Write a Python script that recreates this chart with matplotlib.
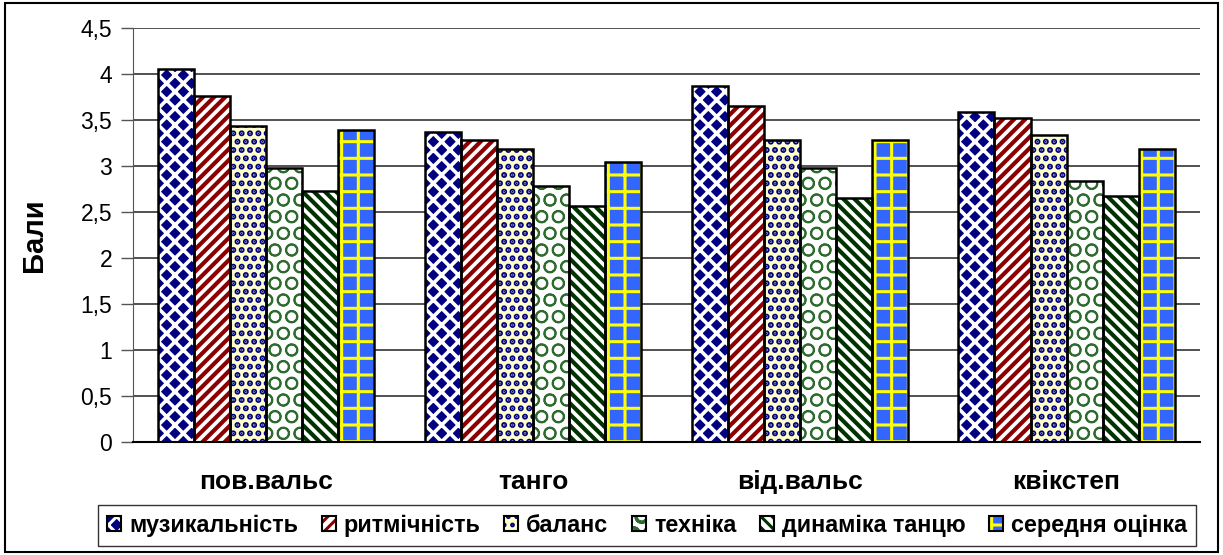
import numpy as np
import matplotlib
matplotlib.use("Agg")
from matplotlib import pyplot as plt
from matplotlib.ticker import FuncFormatter, MultipleLocator
from matplotlib.patches import Rectangle, Patch

plt.rcParams['font.family'] = ['Liberation Sans', 'DejaVu Sans']

dances = ['пов.вальс', 'танго', 'від.вальс', 'квікстеп']
series = ['музикальність', 'ритмічність', 'баланс', 'техніка',
          'динаміка танцю', 'середня оцінка']
muzykalnist = [4.05, 3.37, 3.87, 3.59]
rytmichnist = [3.76, 3.28, 3.65, 3.52]
balans = [3.43, 3.19, 3.28, 3.34]
tekhnika = [2.98, 2.78, 2.98, 2.84]
dynamika = [2.73, 2.56, 2.65, 2.67]
serednia = [3.39, 3.04, 3.28, 3.19]
values = [muzykalnist, rytmichnist, balans, tekhnika, dynamika, serednia]

# face colour, hatch, hatch colour, hatch linewidth
styles = [
    ('#000080', 'xx', 'white', 2.6),
    ('white', '///', '#8B0000', 3.0),
    ('#FFFFCC', '..', '#000080', 3.0),
    ('white', 'O', '#2E6B2E', 1.3),
    ('white', '\\\\\\', '#003300', 3.0),
    ('#3366FF', '+', '#FFFF00', 2.2),
]

fig = plt.figure(figsize=(12.23, 5.55), dpi=100)
ax = fig.add_axes([0.1087, 0.2036, 0.8724, 0.7459])

x = np.arange(len(dances))
w = 0.135


def draw_bars(pos, vals, st):
    face, hatch, hcol, hlw = st
    plt.rcParams['hatch.linewidth'] = hlw
    bars = ax.bar(pos, vals, w, color=face, hatch=hatch, edgecolor=hcol,
                  linewidth=0, zorder=2)
    for b in bars:
        if hasattr(b, 'set_hatch_linewidth'):
            b.set_hatch_linewidth(hlw)
    ax.bar(pos, vals, w, fill=False, edgecolor='black', linewidth=1.8, zorder=3)


for i, (vals, st) in enumerate(zip(values, styles)):
    draw_bars(x + (i - 2.5) * w, vals, st)

ax.set_xlim(-0.5, len(dances) - 0.5)
ax.set_ylim(0, 4.5)
ax.yaxis.set_major_locator(MultipleLocator(0.5))
ax.yaxis.set_major_formatter(FuncFormatter(
    lambda v, p: ('%g' % v).replace('.', ',')))
ax.grid(axis='y', color='#333333', linewidth=1.2, zorder=0)
ax.get_ygridlines()[-1].set_color('#dddddd')
ax.set_xticks(x)
ax.set_xticklabels(dances, fontsize=19, fontweight='bold')
ax.tick_params(axis='x', length=0, pad=20)
ax.tick_params(axis='y', labelsize=16.5, length=9, width=1, direction='out',
               color='#555555', pad=6)
for s in ['top', 'right']:
    ax.spines[s].set_visible(False)
ax.spines['left'].set_color('#555555')
ax.spines['bottom'].set_linewidth(1.5)
ax.set_ylabel('Бали', fontsize=21, fontweight='bold', labelpad=23)

handles = []
for name, st in zip(series, styles):
    face, hatch, hcol, hlw = st
    plt.rcParams['hatch.linewidth'] = hlw
    hp = Patch(facecolor=face, hatch=hatch, edgecolor=hcol, linewidth=0)
    bp = Patch(fill=False, edgecolor='black', linewidth=1.5)
    handles.append((hp, bp))
leg = fig.legend(handles=handles, labels=series, loc='center', ncol=6,
                 bbox_to_anchor=(0.529, 0.053), frameon=True, fancybox=False,
                 edgecolor='black', prop={'weight': 'bold', 'size': 16.8},
                 handlelength=0.6, handleheight=0.6, handletextpad=0.35,
                 columnspacing=1.0, borderpad=0.4, borderaxespad=0)
leg.get_frame().set_linewidth(1.0)

fig.add_artist(Rectangle((0.004, 0.006), 0.992, 0.988, transform=fig.transFigure,
                         fill=False, edgecolor='black', linewidth=1.5))

fig.savefig('out.png', dpi=100)
